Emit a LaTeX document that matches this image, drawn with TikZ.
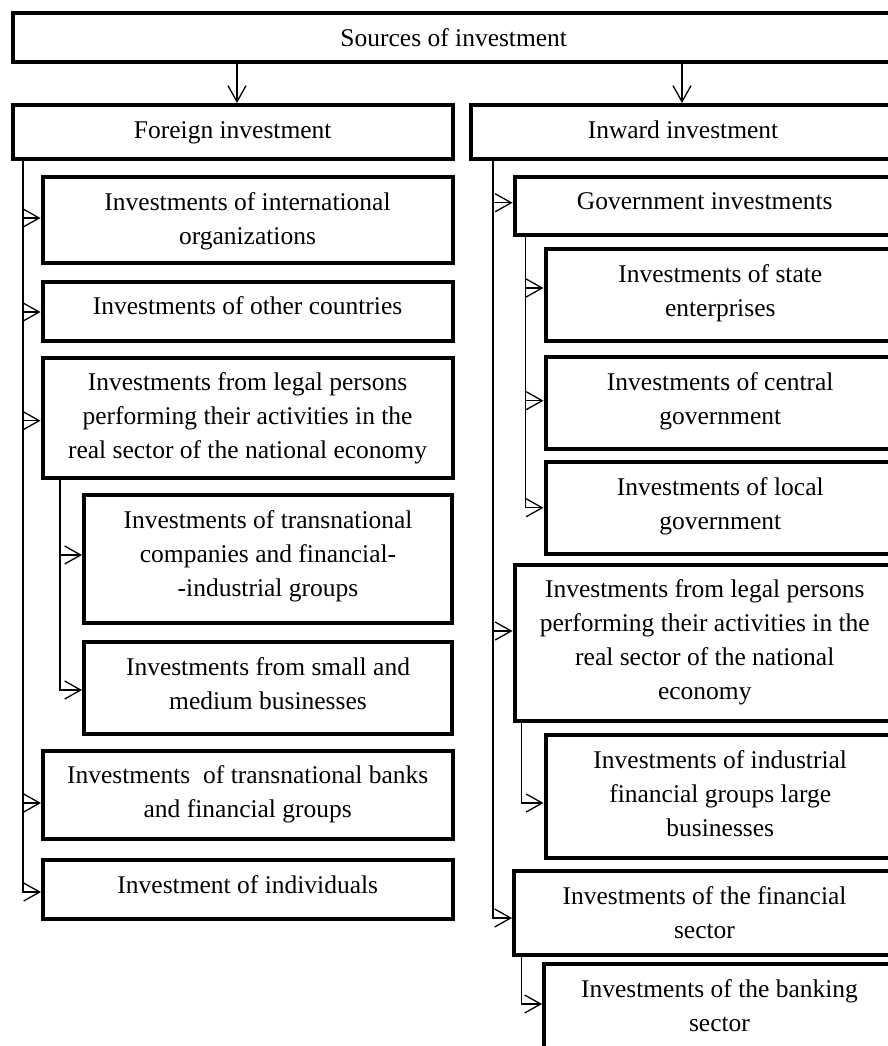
\documentclass[tikz,border=0pt]{standalone}
\usepackage{fontspec}
\setmainfont{Liberation Serif}
\usetikzlibrary{arrows.meta}
\tikzset{
  box/.style={draw=black, line width=4pt, fill=white, inner sep=0pt},
  txt/.style={inner sep=0pt, align=center, anchor=north, font=\fontsize{25.5}{34}\selectfont},
  arr/.style={line width=1.2pt, -{Straight Barb[length=16pt,width=18pt,line width=1.3pt]}},
  trunk/.style={line width=1.2pt}
}
% box: name, left, top, right, bottom
\newcommand\mybox[5]{\node[box, minimum width={#4pt-#2pt}, minimum height={#5pt-#3pt}] (#1) at ({(#2+#4)/2},{(#3+#5)/2}) {};}
\newcommand\mytext[2]{\node[txt] (#1t) at ([yshift=-15pt]#1.north) {\rule{0pt}{20pt}#2};}
\begin{document}
\begin{tikzpicture}[x=1pt,y=-1pt]
\useasboundingbox (0,0) rectangle (888,1046);
\fill[white] (0,0) rectangle (888,1046);
\clip (0,0) rectangle (888,1046);

% top level
\mybox{src}{12.5}{13}{895}{62.5}
\mytext{src}{Sources of investment}
\mybox{for}{12.5}{105}{453}{158.5}
\mytext{for}{Foreign investment}
\mybox{inw}{471}{105}{895}{158.5}
\mytext{inw}{Inward investment}

% left column
\mybox{c1}{42.5}{177}{452.5}{262.5}
\mytext{c1}{Investments of international\\organizations}
\mybox{c2}{42.5}{281.5}{452.5}{340.5}
\mytext{c2}{Investments of other countries}
\mybox{c3}{42.5}{357.5}{452.5}{477.5}
\mytext{c3}{Investments from legal persons\\performing their activities in the\\real sector of the national economy}
\mybox{s1}{84}{495}{452}{623}
\mytext{s1}{Investments of transnational\\companies and financial-\\-industrial groups}
\mybox{s2}{84}{642}{452}{734}
\mytext{s2}{Investments from small and\\medium businesses}
\mybox{c4}{43}{750.5}{452.5}{838.5}
\mytext{c4}{Investments\ \ of transnational banks\\and financial groups}
\mybox{c5}{43}{860}{452.5}{919}
\mytext{c5}{Investment of individuals}

% right column
\mybox{gov}{514.5}{176.5}{895}{235}
\mytext{gov}{Government investments}
\mybox{g1}{545.5}{249}{895}{340.5}
\mytext{g1}{Investments of state\\enterprises}
\mybox{g2}{545.5}{357}{895}{449}
\mytext{g2}{Investments of central\\government}
\mybox{g3}{545.5}{462}{895}{553.5}
\mytext{g3}{Investments of local\\government}
\mybox{rl}{514.5}{564.5}{895}{720.5}
\mytext{rl}{Investments from legal persons\\performing their activities in the\\real sector of the national\\economy}
\mybox{r1}{545.5}{735}{895}{858}
\mytext{r1}{Investments of industrial\\financial groups large\\businesses}
\mybox{fin}{514}{871}{895}{955}
\mytext{fin}{Investments of the financial\\sector}
\mybox{bank}{544}{964}{895}{1050}
\mytext{bank}{Investments of the banking\\sector}

% trunk x positions
\coordinate (tF) at (23,0);
\coordinate (tS) at (60,0);
\coordinate (tI) at (493,0);
\coordinate (tG) at (525.7,0);
\coordinate (tR) at (521.7,0);
\coordinate (a1) at (237,0);
\coordinate (a2) at (682,0);

% top arrows
\draw[arr] (src.south -| a1) -- (for.north -| a1);
\draw[arr] (src.south -| a2) -- (inw.north -| a2);

% foreign branches
\draw[arr] (for.south -| tF) |- ([yshift=1.75pt]c1.west);
\draw[arr] (for.south -| tF) |- ([yshift=-1pt]c2.west);
\draw[arr] (for.south -| tF) |- ([yshift=-3.2pt]c3.west);
\draw[arr] (for.south -| tF) |- ([yshift=-8.5pt]c4.west);
\draw[arr] (for.south -| tF) |- ([yshift=-2.5pt]c5.west);
\draw[arr] (c3.south -| tS) |- ([yshift=4pt]s1.west);
\draw[arr] (c3.south -| tS) |- ([yshift=-2pt]s2.west);

% inward branches
\draw[arr] (inw.south -| tI) |- ([yshift=3pt]gov.west);
\draw[arr] (inw.south -| tI) |- ([yshift=11.5pt]rl.west);
\draw[arr] (inw.south -| tI) |- ([yshift=-5pt]fin.west);
\draw[arr] (gov.south -| tG) |- ([yshift=6.75pt]g1.west);
\draw[arr] (gov.south -| tG) |- ([yshift=2.3pt]g2.west);
\draw[arr] (gov.south -| tG) |- (g3.west);
\draw[arr] (rl.south -| tR) |- ([yshift=-6.5pt]r1.west);
\draw[arr] (fin.south -| tR) |- ([yshift=3pt]bank.west);
\end{tikzpicture}
\end{document}
